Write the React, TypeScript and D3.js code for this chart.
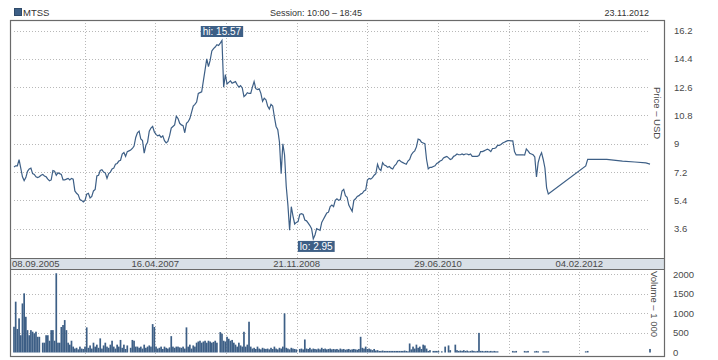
import * as d3 from "d3";

const ticker = "MTSS";
const sessionText = "Session: 10:00 – 18:45";
const headerDate = "23.11.2012";
const firstDay = "2005-09-08";
const lastDay = "2012-11-23";
const weekStep = 7;

// weekly closes (USD), one value every 7 days from 08.09.2005
const weeklyPrice = [
  7.53, 7.6, 7.6, 7.99, 7.45, 6.9, 6.66, 6.85, 7.25, 7.4,
  7.45, 7.1, 7.05, 6.9, 6.85, 6.9, 7.0, 7.05, 6.95, 6.9,
  6.75, 6.65, 6.7, 7.3, 7.25, 7.0, 7.15, 7.1, 7.05, 6.7,
  6.7, 6.75, 6.8, 6.7, 6.8, 6.75, 6.0, 5.85, 5.75, 5.45,
  5.4, 5.3, 5.4, 5.8, 5.85, 5.55, 5.65, 6.0, 6.1, 6.95,
  7.0, 7.3, 7.35, 7.2, 7.15, 6.8, 7.1, 7.2, 7.4, 7.45,
  7.7, 7.75, 7.9, 7.95, 8.35, 8.45, 8.2, 8.5, 8.55, 8.6,
  8.7, 8.85, 9.4, 9.7, 9.8, 9.3, 9.2, 8.4, 8.9, 9.1,
  9.8, 10.0, 10.1, 9.75, 9.6, 9.5, 9.55, 9.4, 9.5, 9.2,
  9.05, 9.15, 9.5, 10.0, 10.1, 10.2, 10.75, 10.6, 10.3, 10.2,
  10.15, 9.7, 10.3, 10.4, 10.6, 11.0, 11.4, 11.5, 11.65, 12.2,
  12.25, 12.3, 13.0, 13.7, 14.4, 13.9, 14.3, 14.9, 15.05, 15.15,
  15.3, 15.25, 15.4, 15.57, 12.6, 13.4, 12.8, 12.9, 13.0, 12.85,
  12.9, 12.95, 12.75, 12.6, 12.7, 12.55, 12.0, 12.1, 12.25, 12.2,
  12.2, 12.6, 12.95, 12.5, 12.45, 12.5, 12.2, 11.7, 11.9, 11.8,
  11.4, 11.2, 11.5, 11.4, 10.7, 10.1, 9.9, 9.1, 7.1, 9.0,
  8.3, 6.3, 5.1, 3.5, 5.0, 4.4, 3.9, 4.0, 4.05, 4.5,
  4.55, 4.5, 4.15, 4.1, 3.95, 3.8, 3.6, 2.95, 3.2, 3.6,
  3.55, 3.5, 4.0, 4.2, 4.4, 4.6, 4.65, 5.0, 5.1, 5.0,
  5.4, 5.5, 5.4, 5.45, 6.0, 6.1, 5.7, 5.6, 5.1, 4.9,
  4.7, 5.4, 5.5, 5.65, 5.7, 5.8, 5.85, 6.0, 6.05, 6.7,
  6.8, 6.75, 6.85, 7.0, 7.1, 7.7, 7.4, 7.3, 7.8, 7.65,
  7.6, 7.5, 7.55, 7.45, 7.4, 7.6, 7.7, 7.9, 7.95, 7.85,
  7.8, 7.75, 7.7, 7.9, 8.0, 8.3, 8.45, 8.55, 8.8, 9.3,
  9.25, 9.1, 9.05, 9.0, 8.0, 7.4, 7.5, 7.5, 7.55, 7.6,
  7.75, 7.8, 7.9, 7.95, 8.1, 8.15, 8.2, 8.1, 8.0, 8.05,
  8.2, 8.25, 8.35, 8.3, 8.3, 8.35, 8.3, 8.35, 8.35, 8.3,
  8.35, 8.2, 8.2, 8.2, 8.2, 8.25, 8.5, 8.5, 8.55, 8.6,
  8.65, 8.6, 8.5, 8.7, 8.7, 8.75, 8.9, 8.9, 8.95, 9.05,
  9.1, 9.15, 9.2, 9.2, 9.18, 9.18, 8.5, 8.29, 8.29, 8.29,
  8.29, 8.3, 8.28, 8.67, 8.55, 8.4, 8.35, 8.3, 8.16, 6.89,
  7.8, 8.2, 8.43, 8.0, 7.46, 6.19, 5.81,
];

// weekly volume, thousands
const weeklyVolume = [
  656, 1295, 600, 870, 440, 1250, 1508, 910, 570, 440,
  570, 530, 490, 530, 400, 400, 0, 250, 250, 440,
  440, 300, 570, 570, 300, 2019, 250, 250, 650, 700,
  826, 570, 250, 200, 300, 150, 100, 120, 80, 150,
  100, 90, 150, 640, 120, 180, 100, 250, 150, 200,
  120, 360, 100, 180, 250, 150, 120, 200, 300, 150,
  100, 200, 150, 320, 120, 200, 90, 180, 0, 120,
  320, 300, 150, 150, 120, 150, 100, 200, 120, 150,
  180, 150, 724, 650, 150, 100, 120, 150, 90, 150,
  120, 100, 130, 417, 150, 120, 150, 150, 130, 120,
  150, 100, 640, 150, 200, 100, 180, 150, 250, 280,
  300, 250, 280, 300, 250, 300, 280, 250, 270, 300,
  250, 0, 520, 480, 300, 280, 400, 350, 300, 320,
  250, 200, 150, 250, 180, 150, 528, 150, 200, 784,
  150, 100, 120, 90, 150, 100, 80, 120, 100, 90,
  100, 80, 120, 90, 150, 100, 80, 120, 100, 150,
  997, 120, 100, 80, 120, 100, 90, 80, 0, 90,
  100, 80, 332, 100, 90, 120, 80, 100, 90, 80,
  100, 80, 120, 90, 100, 80, 90, 100, 80, 90,
  80, 90, 70, 100, 80, 90, 70, 80, 90, 70,
  80, 90, 80, 70, 90, 400, 120, 100, 150, 90,
  100, 80, 60, 90, 50, 60, 40, 40, 50, 40,
  40, 40, 40, 40, 40, 40, 40, 40, 40, 40,
  40, 50, 40, 30, 230, 80, 150, 100, 200, 120,
  150, 90, 200, 180, 100, 40, 60, 0, 40, 40,
  40, 40, 0, 30, 0, 150, 0, 180, 60, 0,
  0, 200, 60, 40, 50, 40, 60, 40, 50, 30,
  40, 50, 40, 30, 40, 500, 40, 40, 30, 40,
  40, 30, 40, 30, 40, 30, 30, 0, 0, 0,
  0, 0, 0, 0, 0, 40, 30, 40, 0, 0,
  0, 0, 40, 30, 40, 0, 0, 0, 30, 40,
  30, 0, 0, 30, 30, 30, 30,
];

// sparse trades at the end
const tailDates = ["2012-03-02", "2012-03-10", "2012-05-28", "2012-08-01", "2012-09-21", "2012-11-06", "2012-11-23"];
const tailPrice = [7.59, 8.01, 8.01, 7.9, 7.84, 7.78, 7.71];
const tailVolume = [30, 40, 0, 0, 0, 0, 90];

const priceTicks = [3.6, 5.4, 7.2, 9, 10.8, 12.6, 14.4, 16.2];
const volumeTicks = [0, 500, 1000, 1500, 2000];
const dateLabels = ["08.09.2005", "16.04.2007", "21.11.2008", "29.06.2010", "04.02.2012"];

const W = 718;
const H = 360;
const blue = "#3d5f86";
const gridColor = "#b8b8b8";
const frameColor = "#6a6a6a";
const textColor = "#4a4a4a";
const font = "'Liberation Sans', Arial, sans-serif";

const parse = d3.timeParse("%Y-%m-%d");

type Pt = { date: Date; price: number; volume: number };

function measure(text: string, size: number) {
  const ctx = document.createElement("canvas").getContext("2d");
  if (!ctx) return text.length * size * 0.5;
  ctx.font = `${size}px 'Liberation Sans', Arial, sans-serif`;
  return ctx.measureText(text).width;
}

export default function App() {
  const start = parse(firstDay)!;
  const end = parse(lastDay)!;

  const data: Pt[] = [
    ...weeklyPrice.map((p, i) => ({
      date: d3.timeDay.offset(start, i * weekStep),
      price: p,
      volume: weeklyVolume[i] ?? 0,
    })),
    ...tailDates.map((d, i) => ({ date: parse(d)!, price: tailPrice[i], volume: tailVolume[i] })),
  ];

  const frame = { left: 10, right: 664, top: 20, priceBottom: 258, bandBottom: 269, bottom: 356 };
  const x = d3.scaleTime().domain([start, end]).range([14, 650]);
  const y = d3.scaleLinear().domain([3.6, 16.2]).range([228.7, 30.5]);
  const yv = d3.scaleLinear().domain([0, 2000]).range([352.5, 274]);
  const gridRight = 649;

  const line = d3
    .line<Pt>()
    .x((d) => x(d.date))
    .y((d) => y(d.price));

  // date grid: 9 equal intervals over the shown period
  const gridDates = d3.range(10).map((i) => new Date(+start + ((+end - +start) * i) / 9));

  const hi = d3.greatest(data, (d) => d.price)!;
  const lo = d3.least(data, (d) => d.price)!;
  const hiText = `hi: ${hi.price.toFixed(2)}`;
  const loText = `lo: ${lo.price.toFixed(2)}`;
  const labelSize = 10;
  const hiW = measure(hiText, labelSize) + 4;
  const loW = measure(loText, labelSize) + 4;

  const sessionW = measure(sessionText, 9);

  return (
    <svg
      width={W}
      height={H}
      style={{ position: "absolute", left: 0, top: 0, display: "block", background: "#fff" }}
      fontFamily={font}
    >
      {/* header */}
      <rect x={14.5} y={8.5} width={7} height={7} fill={blue} stroke="#2f4a69" />
      <text x={23} y={15.5} fontSize={9.5} fill="#333">{ticker}</text>
      <text x={316 - sessionW / 2} y={15.5} fontSize={9} fill="#333">{sessionText}</text>
      <text x={649} y={15.5} fontSize={9} fill="#333" textAnchor="end">{headerDate}</text>

      {/* date band */}
      <rect
        x={frame.left}
        y={frame.priceBottom}
        width={frame.right - frame.left}
        height={frame.bandBottom - frame.priceBottom}
        fill="#d9e0e7"
      />

      {/* horizontal grid: price */}
      {priceTicks.map((t) => (
        <line
          key={"pg" + t}
          x1={14}
          x2={gridRight}
          y1={Math.round(y(t)) + 0.5}
          y2={Math.round(y(t)) + 0.5}
          stroke={gridColor}
          strokeDasharray="1,2"
        />
      ))}
      {/* horizontal grid: volume */}
      {volumeTicks
        .filter((t) => t > 0)
        .map((t) => (
          <line
            key={"vg" + t}
            x1={14}
            x2={gridRight}
            y1={Math.round(yv(t)) + 0.5}
            y2={Math.round(yv(t)) + 0.5}
            stroke={gridColor}
            strokeDasharray="1,2"
          />
        ))}
      {/* vertical grid */}
      {gridDates.slice(1, 9).map((d, i) => {
        const gx = Math.round(x(d)) + 0.5;
        return (
          <g key={"vgrid" + i}>
            <line x1={gx} x2={gx} y1={frame.top} y2={frame.priceBottom} stroke={gridColor} strokeDasharray="1,2" />
            <line x1={gx} x2={gx} y1={frame.bandBottom} y2={frame.bottom} stroke={gridColor} strokeDasharray="1,2" />
          </g>
        );
      })}

      {/* date labels */}
      {dateLabels.map((lab, i) => {
        const gx = x(gridDates[i * 2]);
        return (
          <text
            key={lab}
            x={i === 0 ? 12 : gx}
            y={267}
            fontSize={9.5}
            fill={textColor}
            textAnchor={i === 0 ? "start" : "middle"}
          >
            {lab}
          </text>
        );
      })}

      {/* volume bars */}
      {data
        .filter((d) => d.volume > 0)
        .map((d, i) => (
          <rect
            key={"vb" + i}
            x={x(d.date) - 0.85}
            y={yv(d.volume)}
            width={1.7}
            height={yv(0) - yv(d.volume)}
            fill={blue}
          />
        ))}

      {/* price line */}
      <path d={line(data) ?? ""} fill="none" stroke={blue} strokeWidth={1.2} />

      {/* hi / lo labels */}
      <g>
        <rect x={x(hi.date) - hiW / 2} y={26} width={hiW} height={11} fill={blue} />
        <text x={x(hi.date)} y={35} fontSize={labelSize} fill="#fff" textAnchor="middle">{hiText}</text>
        <rect x={x(lo.date) + 3 - loW / 2} y={y(lo.price) + 2} width={loW} height={11} fill={blue} />
        <text x={x(lo.date) + 3} y={y(lo.price) + 11} fontSize={labelSize} fill="#fff" textAnchor="middle">{loText}</text>
      </g>

      {/* frame */}
      <rect
        x={frame.left + 0.5}
        y={frame.top + 0.5}
        width={frame.right - frame.left}
        height={frame.bottom - frame.top}
        fill="none"
        stroke={frameColor}
        strokeWidth={1.2}
      />
      <line x1={frame.left} x2={frame.right} y1={frame.priceBottom + 0.5} y2={frame.priceBottom + 0.5} stroke={frameColor} strokeWidth={1.2} />
      <line x1={frame.left} x2={frame.right} y1={frame.bandBottom + 0.5} y2={frame.bandBottom + 0.5} stroke={frameColor} strokeWidth={1.2} />

      {/* price axis */}
      {priceTicks.map((t) => (
        <text key={"pt" + t} x={674} y={y(t) + 3.5} fontSize={9.5} fill={textColor}>
          {String(t)}
        </text>
      ))}
      <text
        transform={`translate(654,113) rotate(90)`}
        fontSize={9.5}
        fill={textColor}
        textAnchor="middle"
      >
        Price – USD
      </text>

      {/* volume axis */}
      {volumeTicks.map((t) => (
        <text key={"vt" + t} x={673} y={yv(t) + 3.5} fontSize={9.5} fill={textColor}>
          {String(t)}
        </text>
      ))}
      <text
        transform={`translate(651,304) rotate(90)`}
        fontSize={9.5}
        fill={textColor}
        textAnchor="middle"
      >
        Volume – 1 000
      </text>
    </svg>
  );
}
